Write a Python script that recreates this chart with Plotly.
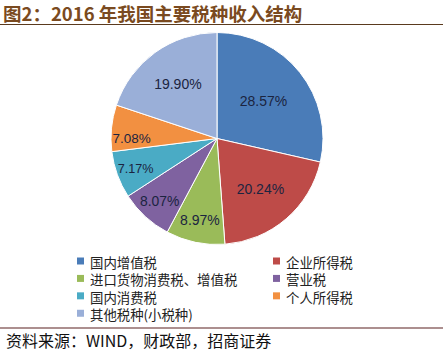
import plotly.graph_objects as go

categories = ["国内增值税", "企业所得税", "进口货物消费税、增值税", "营业税",
              "国内消费税", "个人所得税", "其他税种(小税种)"]
values = [28.57, 20.24, 8.97, 8.07, 7.17, 7.08, 19.90]
labels_txt = ["28.57%", "20.24%", "8.97%", "8.07%", "7.17%", "7.08%", "19.90%"]
colors = ["#4A7CB8", "#BE4B48", "#9ABB59", "#7F62A0", "#4AABC5", "#F29041", "#9AAFD8"]

W, H = 443, 352
fig = go.Figure()
fig.add_trace(go.Pie(
    labels=categories, values=values, text=labels_txt,
    textinfo="text", textposition="inside", insidetextorientation="horizontal",
    sort=False, direction="clockwise", rotation=0,
    marker=dict(colors=colors, line=dict(color="white", width=1)),
    textfont=dict(family="Liberation Sans, Arial", size=14, color="#1B2440"),
    domain=dict(x=[111 / W, 323 / W], y=[1 - 245 / H, 1 - 32 / H]),
    showlegend=False, hoverinfo="none",
))

shapes = [
    dict(type="line", xref="paper", yref="paper", x0=0, x1=1,
         y0=1 - 24.5 / H, y1=1 - 24.5 / H, line=dict(color="#5A3A1E", width=1.2)),
    dict(type="line", xref="paper", yref="paper", x0=0, x1=1,
         y0=1 - 328 / H, y1=1 - 328 / H, line=dict(color="#5A2020", width=1.2)),
]
annotations = [
    dict(text="<b>图2：2016 年我国主要税种收入结构</b>", xref="paper", yref="paper",
         x=1 / W, y=1 - 12.5 / H, xanchor="left", yanchor="middle", showarrow=False,
         font=dict(family="Noto Sans CJK SC", size=18.5, color="#7A4A20")),
    dict(text="资料来源：WIND，财政部，招商证券", xref="paper", yref="paper",
         x=4 / W, y=1 - 340 / H, xanchor="left", yanchor="middle", showarrow=False,
         font=dict(family="Noto Sans CJK SC", size=16, color="#111111")),
]

fs = 13.4  # legend font; plotly line spacing 1.3em -> ~17.4px rows
row_h = 1.3 * fs
cols = [[], []]
for i, (name, c) in enumerate(zip(categories, colors)):
    col, row = i % 2, i // 2
    mx = 77 + col * 196
    my = 261 + row * row_h
    shapes.append(dict(type="rect", xref="paper", yref="paper",
                       x0=mx / W, x1=(mx + 7) / W, y0=1 - (my + 3.5) / H, y1=1 - (my - 3.5) / H,
                       fillcolor=c, line=dict(width=0)))
    cols[col].append(name)

for col, names in enumerate(cols):
    mx = 77 + col * 196
    annotations.append(dict(text="<br>".join(names), xref="paper", yref="paper",
                            x=(mx + 12) / W, y=1 - (261 - row_h / 2 - 1) / H,
                            xanchor="left", yanchor="top", align="left",
                            showarrow=False, borderpad=0,
                            font=dict(family="Noto Sans CJK SC", size=fs, color="#222222")))

fig.update_layout(
    width=W, height=H, margin=dict(l=0, r=0, t=0, b=0),
    paper_bgcolor="white", plot_bgcolor="white",
    shapes=shapes, annotations=annotations,
)
fig.write_html("out.html")
